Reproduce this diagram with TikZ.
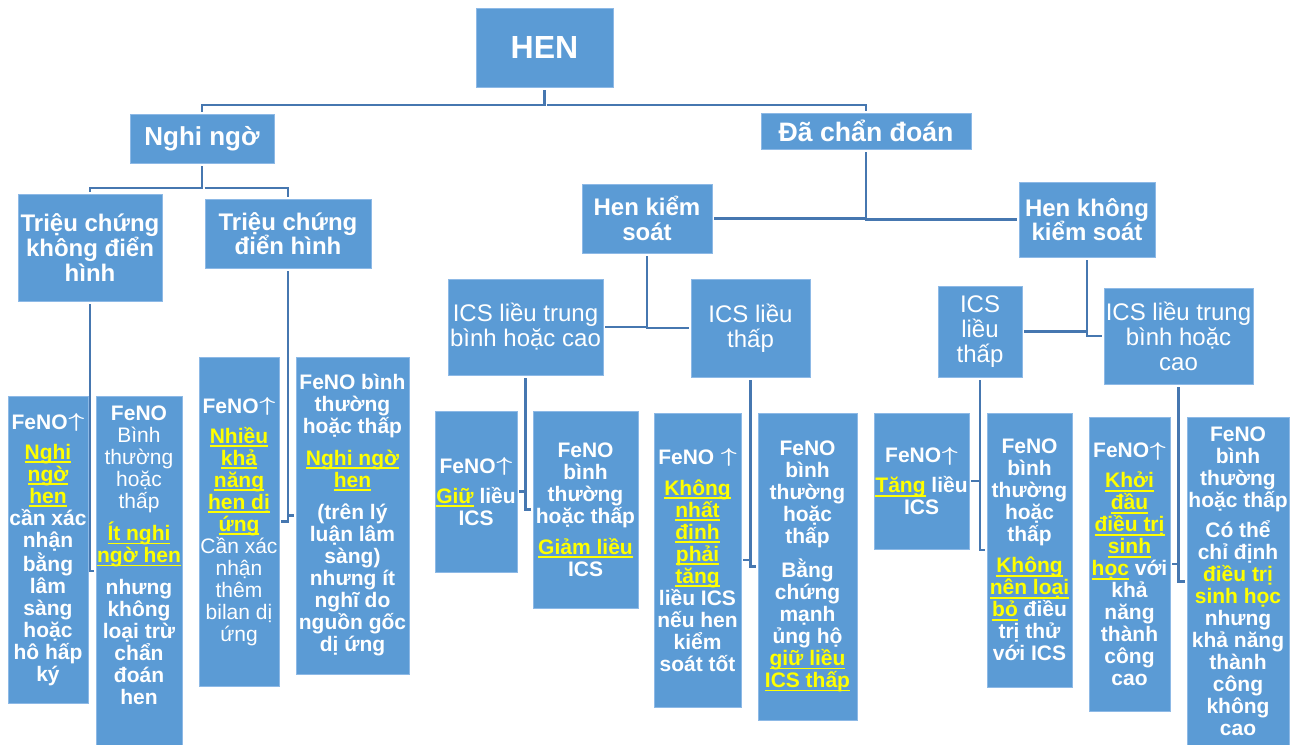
\documentclass[tikz,border=0pt]{standalone}
\usepackage{fontspec}
\setmainfont{Liberation Sans}
\usetikzlibrary{fit}
\definecolor{boxblue}{HTML}{5B9BD5}
\definecolor{boxedge}{HTML}{8DB9E6}
\definecolor{lineblue}{HTML}{4677B0}
\definecolor{hly}{HTML}{FFFF00}
\newcommand\hl[1]{{\color{hly}\setbox0\hbox{#1}\rlap{\rule[-2.8pt]{\wd0}{1.3pt}}\box0}}
\newcommand\hy[1]{{\color{hly}#1}}
\newcommand\rg[1]{{\mdseries #1}}
\newcommand\up{\kern0.5pt\raisebox{1.3pt}{\scalebox{1.45}[1.05]{\boldmath$\uparrow$}}}
\begin{document}
\begin{tikzpicture}[x=0.75pt,y=-0.75pt,
  box/.style={rectangle, fill=boxblue, draw=boxedge, line width=0.6pt, inner sep=0pt},
  txt/.style={text=white, align=center, inner sep=0pt, font=\fontsize{15.75}{16.5}\selectfont\bfseries},
  head/.style={text=white, align=center, inner sep=0pt, font=\fontsize{18}{18.5}\selectfont\bfseries},
  ics/.style={text=white, align=center, inner sep=0pt, font=\fontsize{18}{18.75}\selectfont},
  conn/.style={draw=lineblue, line width=2.1pt, shorten <=2pt, shorten >=1pt}]
\useasboundingbox (0,0) rectangle (1296,745);
\fill[white] (0,0) rectangle (1296,745);

% boxes
\node[box, fit={(476,8) (613,87)}] (hen) {};
\node[box, fit={(130,114) (274,163)}] (ngo) {};
\node[box, fit={(761,113) (971,149)}] (dcd) {};
\node[box, fit={(18,194) (162,301)}] (t1) {};
\node[box, fit={(205,199) (371,268)}] (t2) {};
\node[box, fit={(582,184) (712,253)}] (hks) {};
\node[box, fit={(1019,182) (1155,257)}] (hkks) {};
\node[box, fit={(448,279) (603,375)}] (i1) {};
\node[box, fit={(691,279) (810,377)}] (i2) {};
\node[box, fit={(938,286) (1022,377)}] (i3) {};
\node[box, fit={(1104,288) (1253,384)}] (i4) {};
\node[box, fit={(8,396) (88,703)}] (b1) {};
\node[box, fit={(96,396) (182,746)}] (b2) {};
\node[box, fit={(199,357) (279,686)}] (b3) {};
\node[box, fit={(296,357) (409,674)}] (b4) {};
\node[box, fit={(435,411) (517,572)}] (b5) {};
\node[box, fit={(533,411) (638,608)}] (b6) {};
\node[box, fit={(654,413) (741,707)}] (b7) {};
\node[box, fit={(758,413) (857,720)}] (b8) {};
\node[box, fit={(874,413) (969,549)}] (b9) {};
\node[box, fit={(987,413) (1072,687)}] (b10) {};
\node[box, fit={(1089,417) (1170,711)}] (b11) {};
\node[box, fit={(1187,417) (1289,746)}] (b12) {};

% texts
\node[text=white, font=\fontsize{24}{28}\selectfont\bfseries, inner sep=0pt] (hent) at (hen.center) {HEN};
\node[text=white, font=\fontsize{19.5}{22}\selectfont\bfseries, inner sep=0pt] (ngot) at (ngo.center) {Nghi ngờ};
\node[text=white, font=\fontsize{20}{22}\selectfont\bfseries, inner sep=0pt] (dcdt) at (dcd.center) {Đã chẩn đoán};
\node[head] (t1t) at (t1.center) {Triệu chứng\\không điển\\hình};
\node[head] (t2t) at (t2.center) {Triệu chứng\\điển hình};
\node[head] (hkst) at (hks.center) {Hen kiểm\\soát};
\node[head] (hkkst) at (hkks.center) {Hen không\\kiểm soát};
\node[ics] (i1t) at (i1.center) {ICS liều trung\\bình hoặc cao};
\node[ics] (i2t) at (i2.center) {ICS liều\\thấp};
\node[ics] (i3t) at (i3.center) {ICS\\liều\\thấp};
\node[ics] (i4t) at (i4.center) {ICS liều trung\\bình hoặc\\cao};

\node[txt] (b1t) at (b1.center) {FeNO\up\\[6pt]\hl{Nghi}\\\hl{ngờ}\\\hl{hen}\\cần xác\\nhận\\bằng\\lâm\\sàng\\hoặc\\hô hấp\\ký};
\node[txt] (b2t) at (139,555) {FeNO\\\rg{Bình}\\\rg{thường}\\\rg{hoặc}\\\rg{thấp}\\[6pt]\hl{Ít nghi}\\\hl{ngờ hen}\\[7pt]nhưng\\không\\loại trừ\\chẩn\\đoán\\hen};
\node[txt] (b3t) at (b3.center) {FeNO\up\\[6pt]\hl{Nhiều}\\\hl{khả}\\\hl{năng}\\\hl{hen dị}\\\hl{ứng}\\\rg{Cần xác}\\\rg{nhận}\\\rg{thêm}\\\rg{bilan dị}\\\rg{ứng}};
\node[txt] (b4t) at (b4.center) {FeNO bình\\thường\\hoặc thấp\\[7pt]\hl{Nghi ngờ}\\\hl{hen}\\[8pt](trên lý\\luận lâm\\sàng)\\nhưng ít\\nghĩ do\\nguồn gốc\\dị ứng};
\node[txt] (b5t) at (b5.center) {FeNO\up\\[6pt]\hl{Giữ} liều\\ICS};
\node[txt] (b6t) at (b6.center) {FeNO\\bình\\thường\\hoặc thấp\\[7pt]\hl{Giảm liều}\\ICS};
\node[txt] (b7t) at (b7.center) {FeNO \up\\[7pt]\hl{Không}\\\hl{nhất}\\\hl{định}\\\hl{phải}\\\hl{tăng}\\liều ICS\\nếu hen\\kiểm\\soát tốt};
\node[txt] (b8t) at (b8.center) {FeNO\\bình\\thường\\hoặc\\thấp\\[7pt]Bằng\\chứng\\mạnh\\ủng hộ\\\hl{giữ liều}\\\hl{ICS thấp}};
\node[txt] (b9t) at (b9.center) {FeNO\up\\[6pt]\hl{Tăng} liều\\ICS};
\node[txt] (b10t) at (b10.center) {FeNO\\bình\\thường\\hoặc\\thấp\\[7pt]\hl{Không}\\\hl{nên loại}\\\hl{bỏ} điều\\trị thử\\với ICS};
\node[txt] (b11t) at (b11.center) {FeNO\up\\[6pt]\hl{Khởi}\\\hl{đầu}\\\hl{điều trị}\\\hl{sinh}\\\hl{học} với\\khả\\năng\\thành\\công\\cao};
\node[txt] (b12t) at (b12.center) {FeNO\\bình\\thường\\hoặc thấp\\[6pt]Có thể\\chỉ định\\\hy{điều trị}\\\hy{sinh học}\\nhưng\\khả năng\\thành\\công\\không\\cao};

% connectors
\coordinate (j0) at (544.5,105);
\coordinate (j1) at (202,188);
\draw[conn] (hen.south) -- (j0) -| (ngo.north);
\draw[conn] (j0) -| (dcd.north);
\draw[conn] (ngo.south) -- (j1) -| (t1.north);
\draw[conn] (j1) -| (t2.north);
\draw[conn] (dcd.south) |- (hks.east);
\draw[conn] (dcd.south) |- (hkks.west);
\draw[conn] (hks.south) |- (i1.east);
\draw[conn] (hks.south) |- (i2.west);
\draw[conn] (hkks.south) |- (i3.east);
\draw[conn] (hkks.south) |- (i4.west);
\draw[conn] (t1.south) |- (b1.east);
\draw[conn] (t1.south) |- (b2.west);
\draw[conn] (t2.south) |- (b3.east);
\draw[conn] (t2.south) |- (b4.west);
\draw[conn] (i1.south) |- (b5.east);
\draw[conn] (i1.south) |- (b6.west);
\draw[conn] (i2.south) |- (b7.east);
\draw[conn] (i2.south) |- (b8.west);
\draw[conn] (i3.south) |- (b9.east);
\draw[conn] (i3.south) |- (b10.west);
\draw[conn] (i4.south) |- (b11.east);
\draw[conn] (i4.south) |- (b12.west);
\end{tikzpicture}
\end{document}
